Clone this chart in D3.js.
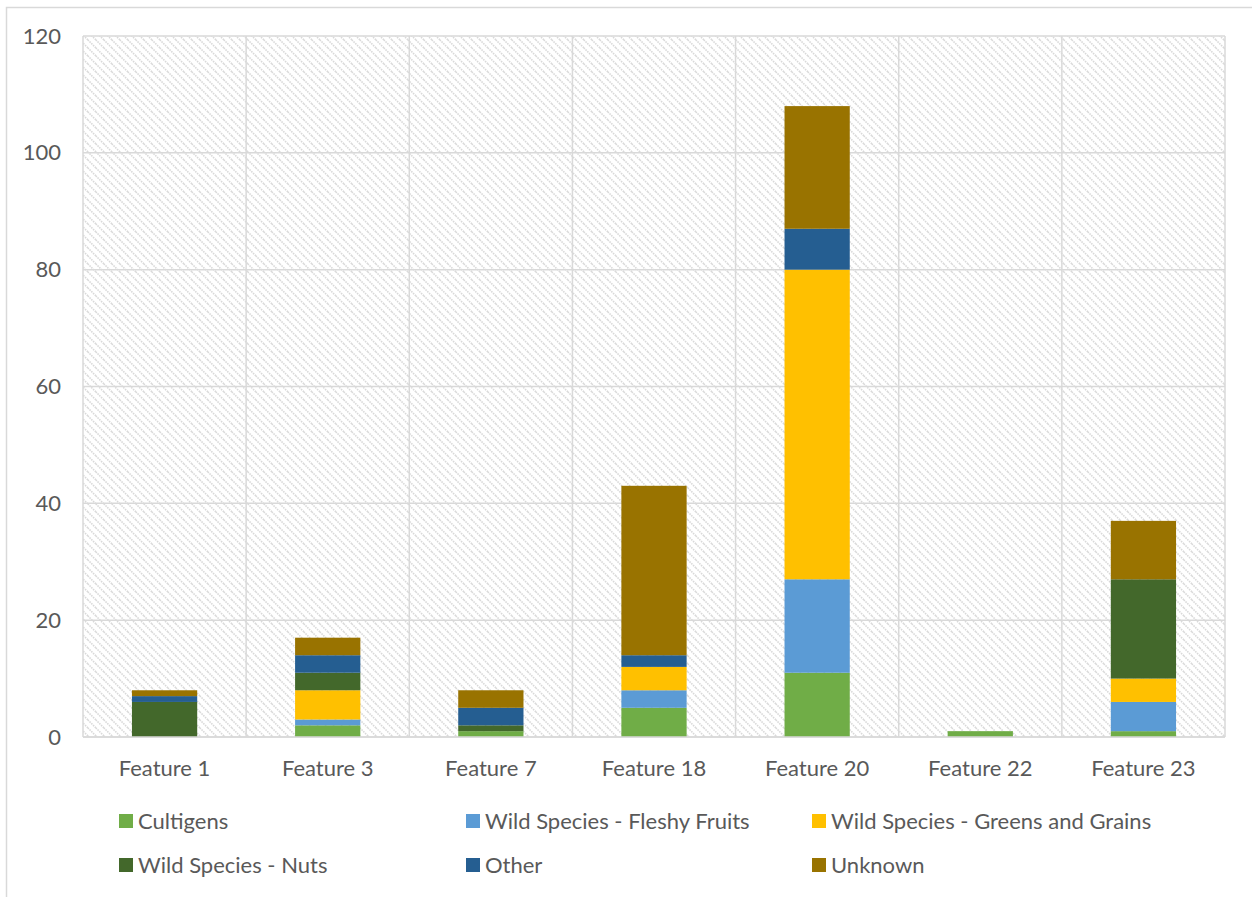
<!DOCTYPE html>
<html>
<head>
<meta charset="utf-8">
<script src="https://cdn.jsdelivr.net/npm/d3@7"></script>
<style>
  html, body { margin: 0; padding: 0; background: #fff; }
  svg { display: block; }
  text { font-family: Lato, "Open Sans", "Liberation Sans", sans-serif; fill: #595959; }
</style>
</head>
<body>
<script>
const categories = ["Feature 1", "Feature 3", "Feature 7", "Feature 18", "Feature 20", "Feature 22", "Feature 23"];
const seriesNames = ["Cultigens", "Wild Species - Fleshy Fruits", "Wild Species - Greens and Grains", "Wild Species - Nuts", "Other", "Unknown"];
const cultigens    = [0, 2, 1, 5, 11, 1, 1];
const fleshyFruits = [0, 1, 0, 3, 16, 0, 5];
const greensGrains = [0, 5, 0, 4, 53, 0, 4];
const nuts         = [6, 3, 1, 0, 0, 0, 17];
const other        = [1, 3, 3, 2, 7, 0, 0];
const unknown      = [1, 3, 3, 29, 21, 0, 10];
const yTicks = [0, 20, 40, 60, 80, 100, 120];
const colors = ["#70AD47", "#5B9BD5", "#FFC000", "#43682B", "#255E91", "#997300"];

const seriesValues = [cultigens, fleshyFruits, greensGrains, nuts, other, unknown];
const rows = categories.map((c, i) => {
  const r = { cat: c };
  seriesNames.forEach((s, j) => r[s] = seriesValues[j][i]);
  return r;
});

const W = 1252, H = 897;
const svg = d3.select("body").append("svg").attr("width", W).attr("height", H);

// outer chart frame
svg.append("rect").attr("x", 6.5).attr("y", 7.5).attr("width", 1300).attr("height", 1000)
  .attr("fill", "#fff").attr("stroke", "#d9d9d9").attr("stroke-width", 1.5);

const plot = { left: 83, right: 1225, top: 36, bottom: 737 };

const defs = svg.append("defs");
const pat = defs.append("pattern").attr("id", "hatch").attr("patternUnits", "userSpaceOnUse")
  .attr("width", 8).attr("height", 8);
pat.append("rect").attr("width", 8).attr("height", 8).attr("fill", "#fff");
pat.append("path").attr("d", "M-2,-2 L10,10 M-2,6 L2,10 M6,-2 L10,2")
  .attr("stroke", "#d9d9d9").attr("stroke-width", 1.6).attr("stroke-dasharray", "1.5,1");

const x = d3.scaleBand().domain(categories).range([plot.left, plot.right]).paddingInner(0).paddingOuter(0);
const y = d3.scaleLinear().domain([0, 120]).range([plot.bottom, plot.top]);

svg.append("rect").attr("x", plot.left).attr("y", plot.top)
  .attr("width", plot.right - plot.left).attr("height", plot.bottom - plot.top)
  .attr("fill", "url(#hatch)");

// horizontal gridlines
svg.append("g").selectAll("line").data(yTicks).join("line")
  .attr("x1", plot.left).attr("x2", plot.right)
  .attr("y1", d => y(d)).attr("y2", d => y(d))
  .attr("stroke", "#d9d9d9").attr("stroke-width", 1.5);

// vertical gridlines at category boundaries
const bounds = categories.map(c => x(c)).concat([plot.right]);
svg.append("g").selectAll("line").data(bounds).join("line")
  .attr("x1", d => d).attr("x2", d => d)
  .attr("y1", plot.top).attr("y2", plot.bottom)
  .attr("stroke", "#d9d9d9").attr("stroke-width", 1.5);

// stacked bars
const stack = d3.stack().keys(seriesNames)(rows);
const barW = x.bandwidth() * 0.4;
svg.append("g").selectAll("g").data(stack).join("g")
  .attr("fill", (d, i) => colors[i])
  .selectAll("rect").data(d => d).join("rect")
  .attr("x", d => x(d.data.cat) + (x.bandwidth() - barW) / 2)
  .attr("y", d => y(d[1]))
  .attr("width", barW)
  .attr("height", d => y(d[0]) - y(d[1]));

// x axis line
svg.append("line").attr("x1", plot.left).attr("x2", plot.right)
  .attr("y1", plot.bottom).attr("y2", plot.bottom)
  .attr("stroke", "#d9d9d9").attr("stroke-width", 1.5);

// y tick labels
const yAxis = d3.axisLeft(y).tickValues(yTicks).tickSize(0).tickPadding(0);
const gy = svg.append("g").attr("transform", `translate(61,0)`).call(yAxis);
gy.select(".domain").remove();
gy.selectAll("text").attr("font-size", 22).attr("fill", "#595959")
  .style("font-family", "Lato, 'Open Sans', sans-serif");

// x tick labels
const xAxis = d3.axisBottom(x).tickSize(0).tickPadding(0);
const gx = svg.append("g").attr("transform", `translate(0,${plot.bottom + 23})`).call(xAxis);
gx.select(".domain").remove();
gx.selectAll("text").attr("font-size", 22).attr("fill", "#595959")
  .style("font-family", "Lato, 'Open Sans', sans-serif");

// legend
const legX = [119, 466, 812];
const legY = [821, 865];
const leg = svg.append("g").selectAll("g").data(seriesNames).join("g")
  .attr("transform", (d, i) => `translate(${legX[i % 3]},${legY[Math.floor(i / 3)]})`);
leg.append("rect").attr("x", 0).attr("y", -7).attr("width", 14).attr("height", 14)
  .attr("fill", (d, i) => colors[i]);
leg.append("text").attr("x", 19).attr("y", 0).attr("dy", "0.35em")
  .attr("font-size", 22).text(d => d);
</script>
</body>
</html>
